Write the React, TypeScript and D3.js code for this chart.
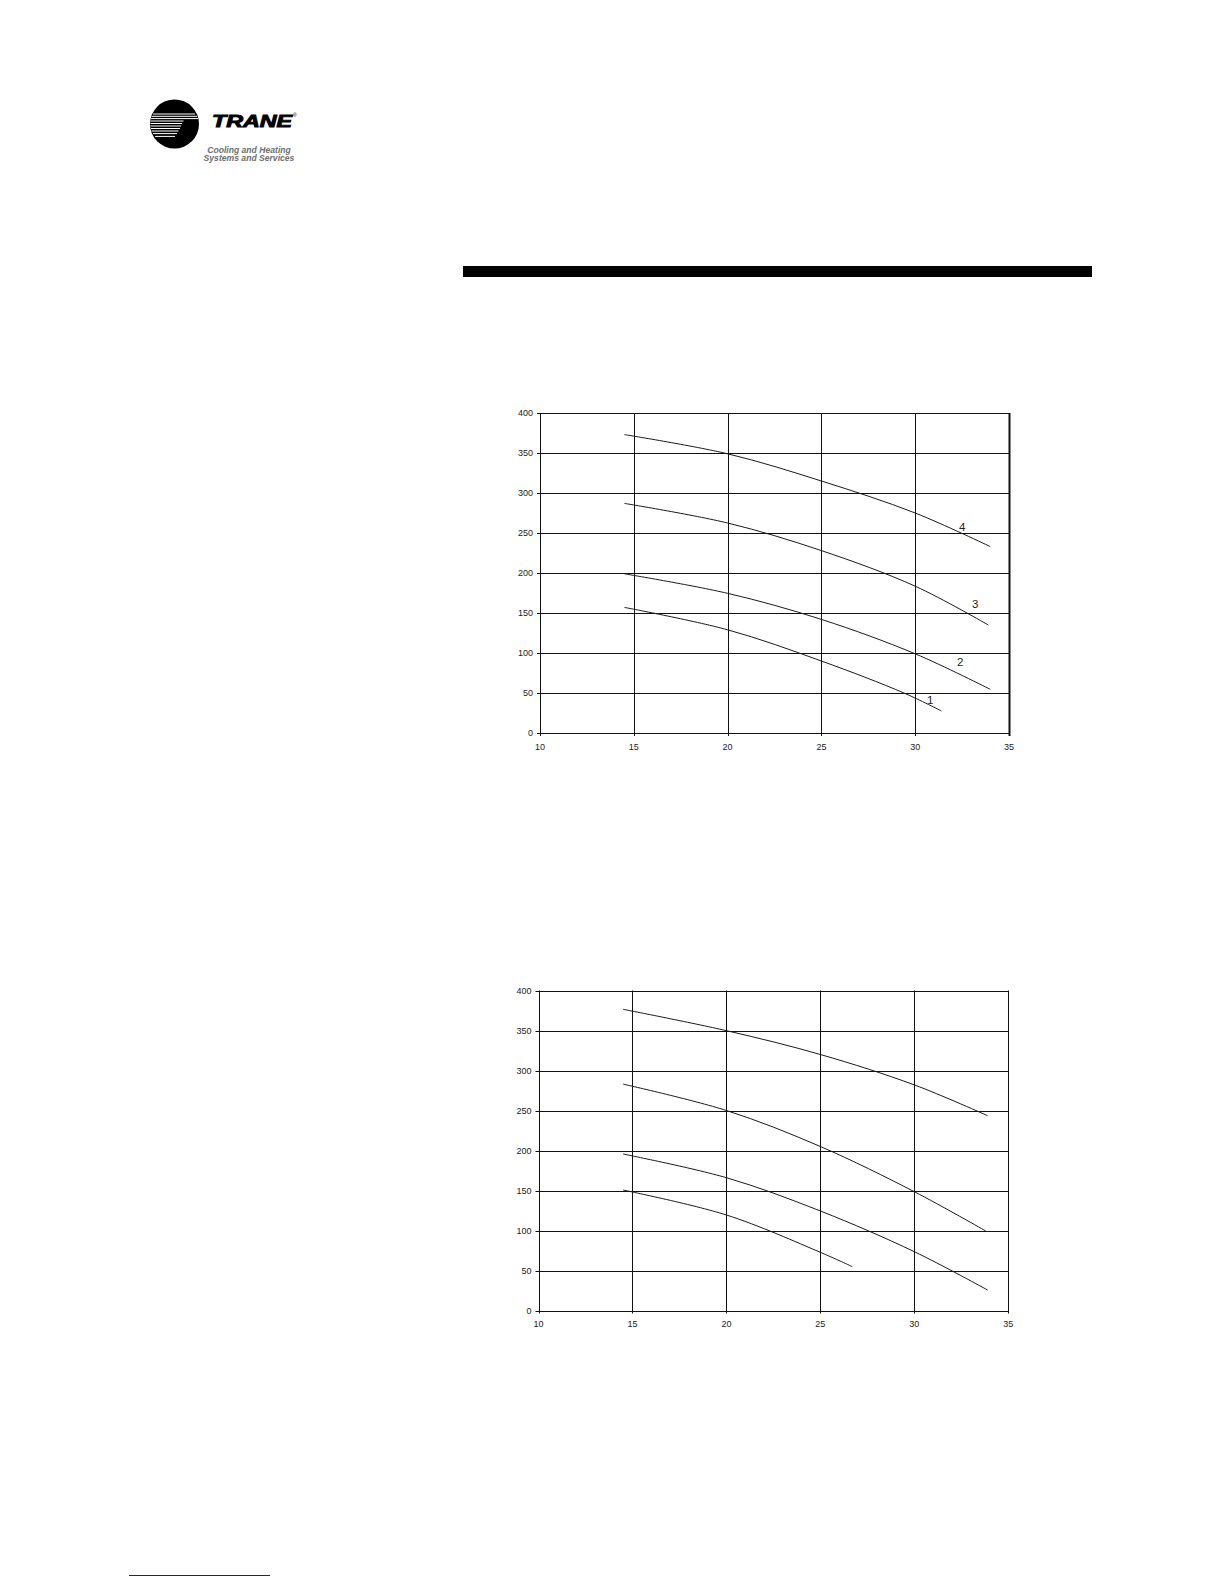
import React from "react";
import * as d3 from "d3";

// ---- data ----
const xTicks = [10, 15, 20, 25, 30, 35];
const yTicks = [0, 50, 100, 150, 200, 250, 300, 350, 400];

// Chart 1 curves
const c1Curve1X = [14.5, 20, 25, 29.4, 31.4];
const c1Curve1Y = [157, 129, 90, 50, 27.5];
const c1Curve2X = [14.5, 20, 25, 30, 34];
const c1Curve2Y = [199, 174.6, 142, 99, 54.6];
const c1Curve3X = [14.5, 20, 25, 30, 33.9];
const c1Curve3Y = [287, 262.5, 228, 183.5, 135];
const c1Curve4X = [14.5, 20, 25, 30, 34];
const c1Curve4Y = [373, 349, 315, 275, 233];
const c1Labels = ["1", "2", "3", "4"];
const c1LabelX = [30.8, 32.4, 33.2, 32.5];
const c1LabelY = [42, 89, 161, 257.5];

// Chart 2 curves
const c2CurveAX = [14.5, 20, 25, 30, 33.9];
const c2CurveAY = [376.5, 349.8, 320, 282, 243.5];
const c2CurveBX = [14.5, 20, 25, 30, 33.8];
const c2CurveBY = [283, 250, 205, 148.5, 99.4];
const c2CurveCX = [14.5, 20, 25, 30, 33.9];
const c2CurveCY = [195.6, 166, 124.4, 73.5, 25.6];
const c2CurveDX = [14.5, 20, 25, 26.7];
const c2CurveDY = [150.6, 119.4, 72.7, 54.8];

type Series = { x: number[]; y: number[] };

const chart1Series: Series[] = [
  { x: c1Curve1X, y: c1Curve1Y },
  { x: c1Curve2X, y: c1Curve2Y },
  { x: c1Curve3X, y: c1Curve3Y },
  { x: c1Curve4X, y: c1Curve4Y },
];
const chart2Series: Series[] = [
  { x: c2CurveAX, y: c2CurveAY },
  { x: c2CurveBX, y: c2CurveBY },
  { x: c2CurveCX, y: c2CurveCY },
  { x: c2CurveDX, y: c2CurveDY },
];

const FONT = "'Liberation Sans', Arial, sans-serif";

function Chart(props: {
  left: number;
  right: number;
  top: number;
  bottom: number;
  series: Series[];
  labels?: string[];
  labelX?: number[];
  labelY?: number[];
  rightBorderWidth: number;
}) {
  const { left, right, top, bottom, series, labels, labelX, labelY, rightBorderWidth } = props;
  const x = d3.scaleLinear().domain([10, 35]).range([left, right]);
  const y = d3.scaleLinear().domain([0, 400]).range([bottom, top]);
  const line = d3
    .line<[number, number]>()
    .x((d) => x(d[0]))
    .y((d) => y(d[1]))
    .curve(d3.curveCatmullRom.alpha(0.5));
  const snap = (v: number) => Math.round(v) + 0.5;
  return (
    <g>
      {yTicks.map((t) => (
        <line
          key={"h" + t}
          x1={x(10) - 3}
          x2={x(35)}
          y1={snap(y(t))}
          y2={snap(y(t))}
          stroke="#111"
          strokeWidth={1}
        />
      ))}
      {xTicks.map((t) => (
        <line
          key={"v" + t}
          x1={snap(x(t))}
          x2={snap(x(t))}
          y1={y(400)}
          y2={y(0) + 3}
          stroke="#111"
          strokeWidth={t === 35 ? rightBorderWidth : 1}
        />
      ))}
      {yTicks.map((t) => (
        <text
          key={"yl" + t}
          x={x(10) - 7}
          y={y(t)}
          dy="0.36em"
          textAnchor="end"
          fontFamily={FONT}
          fontSize={9}
          fill="#222"
        >
          {t}
        </text>
      ))}
      {xTicks.map((t) => (
        <text
          key={"xl" + t}
          x={x(t)}
          y={y(0) + 16.5}
          textAnchor="middle"
          fontFamily={FONT}
          fontSize={9}
          fill="#222"
        >
          {t}
        </text>
      ))}
      {series.map((s, i) => (
        <path
          key={"c" + i}
          d={line(s.x.map((v, j) => [v, s.y[j]] as [number, number])) || ""}
          fill="none"
          stroke="#1a1a1a"
          strokeWidth={1}
        />
      ))}
      {labels &&
        labels.map((l, i) => (
          <text
            key={"lab" + i}
            x={x(labelX![i])}
            y={y(labelY![i])}
            dy="0.36em"
            textAnchor="middle"
            fontFamily={FONT}
            fontSize={11.5}
            fill="#222"
          >
            {l}
          </text>
        ))}
    </g>
  );
}

function Logo() {
  const cx = 174.5;
  const cy = 124;
  const r = 24.5;
  // [y, x1, x2]
  const stripes: [number, number, number][] = [
    [114, 153, 195],
    [116.3, 151.5, 197],
    [118.6, 151, 198],
    [121, 150.5, 183.5],
    [123.5, 150.5, 182],
    [126, 150.5, 181],
    [128.5, 151, 180],
    [131, 151.5, 178.5],
    [133.6, 153, 177],
    [136.4, 155, 175],
  ];
  return (
    <g>
      <defs>
        <clipPath id="logoClip">
          <circle cx={cx} cy={cy} r={r} />
        </clipPath>
      </defs>
      <circle cx={cx} cy={cy} r={r} fill="#000" />
      <g clipPath="url(#logoClip)">
        {stripes.map((s, i) => (
          <line key={i} x1={s[1]} x2={s[2]} y1={s[0]} y2={s[0]} stroke="#fff" strokeWidth={1} />
        ))}
      </g>
      <text
        x={212}
        y={127}
        fontFamily={FONT}
        fontWeight="bold"
        fontStyle="italic"
        fontSize={16.5}
        textLength={80}
        lengthAdjust="spacingAndGlyphs"
        fill="#000"
        stroke="#000"
        strokeWidth={0.9}
      >
        TRANE
      </text>
      <text x={293} y={117} fontFamily={FONT} fontSize={5} fill="#000">
        ®
      </text>
      <text
        x={249}
        y={153}
        textAnchor="middle"
        fontFamily={FONT}
        fontWeight="bold"
        fontStyle="italic"
        fontSize={8.6}
        fill="#6e6e6e"
      >
        Cooling and Heating
      </text>
      <text
        x={249}
        y={160.5}
        textAnchor="middle"
        fontFamily={FONT}
        fontWeight="bold"
        fontStyle="italic"
        fontSize={8.6}
        fill="#6e6e6e"
      >
        Systems and Services
      </text>
    </g>
  );
}

export default function App() {
  return (
    <svg
      width={1224}
      height={1584}
      style={{ position: "absolute", left: 0, top: 0, background: "#fff" }}
    >
      <rect x={0} y={0} width={1224} height={1584} fill="#fff" />
      <Logo />
      <rect x={463} y={266} width={629} height={11} fill="#000" />
      <Chart
        left={540}
        right={1009}
        top={413}
        bottom={733}
        series={chart1Series}
        labels={c1Labels}
        labelX={c1LabelX}
        labelY={c1LabelY}
        rightBorderWidth={2}
      />
      <Chart
        left={538.5}
        right={1008.3}
        top={990.5}
        bottom={1310.5}
        series={chart2Series}
        rightBorderWidth={1}
      />
      <line x1={129} x2={270} y1={1575.5} y2={1575.5} stroke="#1c1c8a" strokeWidth={1} />
    </svg>
  );
}
